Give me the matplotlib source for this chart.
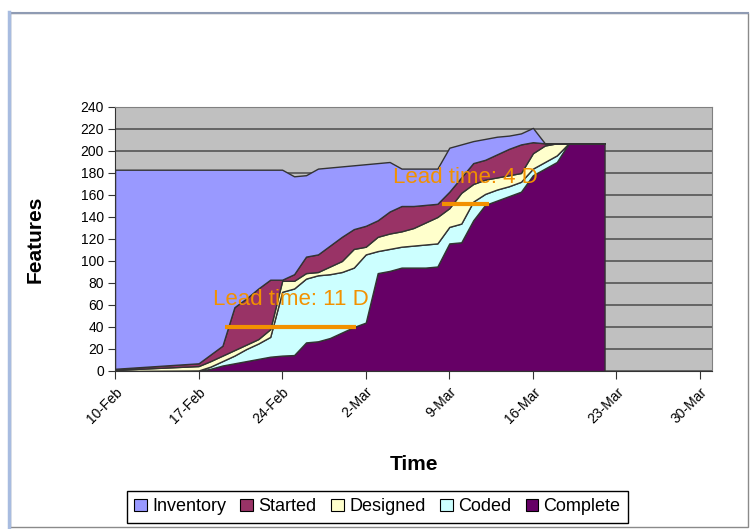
import numpy as np
import matplotlib.pyplot as plt
import matplotlib.dates as mdates
from matplotlib.patches import Patch, Rectangle
from matplotlib.lines import Line2D

plt.rcParams['font.family'] = ['Liberation Sans', 'DejaVu Sans']

# cumulative flow: number of features that reached each stage, per day since 10-Feb
start = np.datetime64('2008-02-10')
day = [0, 7, 8, 9, 10, 11, 12, 13, 14, 15, 16, 17, 18, 19, 20, 21, 22, 23,
       24, 25, 26, 27, 28, 29, 30, 31, 32, 33, 34, 35, 36, 37, 38, 39, 40, 41]

inventory = [183, 183, 183, 183, 183, 183, 183, 183, 183, 177, 178, 184, 185, 186, 187, 188, 189, 190,
             184, 184, 184, 184, 203, 206, 209, 211, 213, 214, 216, 221, 207, 207, 207, 207, 207, 207]
started = [2, 7, 15, 23, 58, 66, 75, 83, 83, 88, 104, 106, 114, 122, 129, 132, 137, 145,
           150, 150, 151, 152, 163, 176, 189, 192, 197, 202, 206, 208, 207, 207, 207, 207, 207, 207]
designed = [1, 4.5, 9, 14, 19, 24, 29, 38, 82, 82, 89, 90, 95, 100, 111, 113, 122, 125,
            127, 130, 135, 140, 148, 162, 170, 174, 176, 178, 180, 198, 205, 207, 207, 207, 207, 207]
coded = [0, 0.5, 4, 9, 14, 20, 25, 31, 72, 75, 84, 87, 88, 90, 94, 106, 109, 111,
         113, 114, 115, 116, 131, 134, 154, 161, 165, 168, 172, 184, 190, 196, 207, 207, 207, 207]
complete = [0, 0, 2, 5, 7, 9, 11, 13, 14, 14.5, 26, 27, 30, 35, 40, 44, 89, 91,
            94, 94, 94, 95, 116, 117, 137, 151, 155, 159, 163, 178, 184, 190, 207, 207, 207, 207]

stage_names = ["Inventory", "Started", "Designed", "Coded", "Complete"]
stage_colors = ["#9999FF", "#993366", "#FFFFCC", "#CCFFFF", "#660066"]

week_labels = ["10-Feb", "17-Feb", "24-Feb", "2-Mar", "9-Mar", "16-Mar", "23-Mar", "30-Mar"]

# lead time markers: (first day, lead time in days, level)
lead_times = [(9.2, 11, 40), (27.35, 4, 152)]
lead_text = [("Lead time: 11 D", 8.2, 60), ("Lead time: 4 D", 23.3, 171)]

t0 = mdates.date2num(start)
x = t0 + np.array(day, dtype=float)

fig = plt.figure(figsize=(7.5, 5.29), dpi=100)
ax = fig.add_axes([115 / 750, 158 / 529, 597 / 750, 264 / 529])
ax.set_facecolor("#C0C0C0")

layers = [complete, coded, designed, started, inventory]
lower = np.zeros(len(day))
for name, vals in zip(stage_names[::-1], layers):
    vals = np.array(vals, dtype=float)
    ax.fill_between(x, lower, vals, facecolor=stage_colors[stage_names.index(name)],
                    edgecolor="#333333", linewidth=1.0, zorder=2)
    lower = vals

for d0, lt, lvl in lead_times:
    ax.plot([t0 + d0, t0 + d0 + lt], [lvl, lvl], color="#F29100", linewidth=3, solid_capstyle="butt", zorder=4)
for txt, d0, lvl in lead_text:
    ax.text(t0 + d0, lvl, txt, color="#F29100", fontsize=16, ha="left", va="baseline", zorder=4)

ax.set_xlim(t0, t0 + 50)
ax.set_ylim(0, 240)
ax.set_yticks(np.arange(0, 241, 20))
ax.set_xticks(t0 + np.arange(0, 50, 7))
ax.set_xticklabels(week_labels, rotation=45, ha="right", rotation_mode="anchor", fontsize=10)
ax.tick_params(axis="y", labelsize=10, length=5, color="#333333", pad=3)
ax.tick_params(axis="x", length=6, color="#333333", pad=4)
ax.yaxis.grid(True, color="#555555", linewidth=1.2)
ax.set_axisbelow(True)

for side in ["left", "bottom"]:
    ax.spines[side].set_color("#333333")
for side in ["top", "right"]:
    ax.spines[side].set_color("#808080")

ax.set_ylabel("Features", fontsize=15, fontweight="bold")
ax.set_xlabel("Time", fontsize=15, fontweight="bold")
ax.yaxis.set_label_coords(-0.134, 0.5)
ax.yaxis.label.set_va("center")
ax.xaxis.set_label_coords(0.5, -0.356)
ax.xaxis.label.set_va("center")

handles = [Patch(facecolor=c, edgecolor="black", linewidth=0.8) for c in stage_colors]
fig.legend(handles, stage_names, loc="center", bbox_to_anchor=(0.503, 0.0416), ncol=5,
           frameon=True, fancybox=False, edgecolor="black", framealpha=1, fontsize=13,
           handlelength=0.7, handleheight=0.7, handletextpad=0.3, columnspacing=0.8,
           borderpad=0.4)

# slide frame around the chart
fig.patches.append(Rectangle((10 / 750, 2 / 529), 738 / 750, 514 / 529, transform=fig.transFigure,
                             fill=False, edgecolor="#8a8a8a", linewidth=1.0))
fig.add_artist(Line2D([10 / 750, 748 / 750], [516 / 529, 516 / 529], transform=fig.transFigure,
                      color="#8f9bb3", linewidth=1.5))
fig.add_artist(Line2D([9 / 750, 9 / 750], [2 / 529, 517 / 529], transform=fig.transFigure,
                      color="#a8bce0", linewidth=2.5))

fig.savefig("out.png", dpi=100)
